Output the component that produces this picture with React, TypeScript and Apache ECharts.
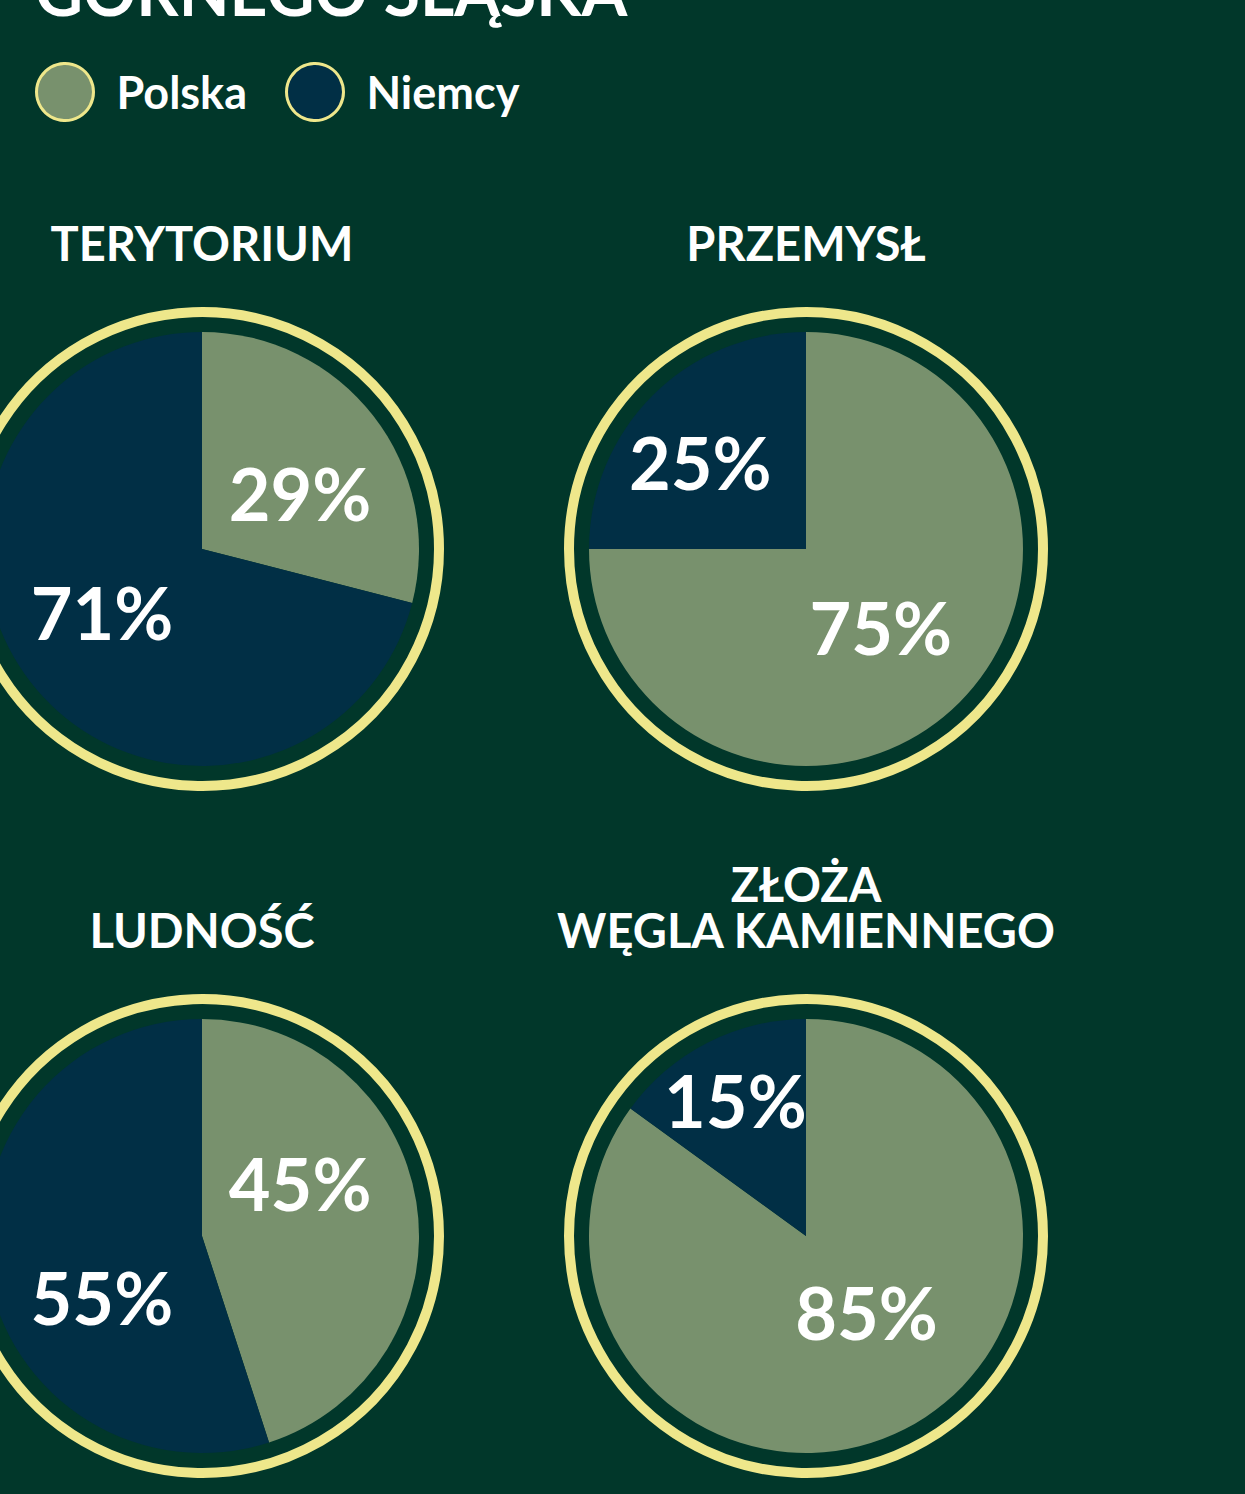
import React, { useEffect, useRef } from "react";
import * as echarts from "echarts";

// ---- data ----
const CATEGORIES = ["Polska", "Niemcy"];
const PANEL_TITLES = ["TERYTORIUM", "PRZEMYSŁ", "LUDNOŚĆ", "ZŁOŻA\nWĘGLA KAMIENNEGO"];
const POLSKA = [29, 75, 45, 85];
const NIEMCY = [71, 25, 55, 15];
const HEADLINE = "GÓRNEGO ŚLĄSKA";

// ---- style / layout ----
const W = 1245;
const H = 1494;
const BG = "#01372A";
const C_POL = "#78916D";
const C_NIE = "#012F45";
const YELLOW = "#EEE78B";
const FONT = "Lato, 'Open Sans', sans-serif";
const CENTERS: [number, number][] = [
  [202, 549],
  [806, 549],
  [202, 1236],
  [806, 1236],
];
const RADIUS = 217;
const RING_R = 237;
const TITLE_Y = [243, 243, 930, 907];
// label nudges [Polska, Niemcy] per panel
const LABEL_OFFSETS: [number, number][][] = [
  [[10, 12], [-12, -5]],
  [[-4, -1], [-27, -8]],
  [[-12, -36], [10, 44]],
  [[10, -23], [-20, -37]],
];

export default function App() {
  const ref = useRef<HTMLDivElement>(null);
  useEffect(() => {
    if (!ref.current) return;
    const chart = echarts.init(ref.current, null, { renderer: "svg" });
    const colors = [C_POL, C_NIE];

    const series = PANEL_TITLES.map((t, i) => ({
      type: "pie",
      name: t,
      center: CENTERS[i],
      radius: [0, RADIUS],
      startAngle: 90,
      clockwise: true,
      silent: true,
      avoidLabelOverlap: false,
      emphasis: { disabled: true },
      itemStyle: { borderWidth: 0 },
      labelLine: { show: false },
      label: {
        show: true,
        position: "inside",
        formatter: "{c}%",
        color: "#FFFFFF",
        fontSize: 72,
        fontWeight: "bold",
        fontFamily: FONT,
      },
      data: [POLSKA[i], NIEMCY[i]].map((v, k) => ({
        name: CATEGORIES[k],
        value: v,
        itemStyle: { color: colors[k] },
        label: { offset: LABEL_OFFSETS[i][k] },
      })),
    }));

    const graphic: any[] = [
      {
        type: "text",
        x: 35,
        y: -10,
        style: {
          text: HEADLINE,
          fill: "#FFFFFF",
          font: `bold 66px ${FONT}`,
          textVerticalAlign: "middle",
          textAlign: "left",
        },
      },
    ];
    CENTERS.forEach((c, i) => {
      graphic.push({
        type: "circle",
        shape: { cx: c[0], cy: c[1], r: RING_R },
        style: { fill: "none", stroke: YELLOW, lineWidth: 10 },
        silent: true,
      });
      graphic.push({
        type: "text",
        x: c[0],
        y: TITLE_Y[i],
        style: {
          text: PANEL_TITLES[i],
          fill: "#FFFFFF",
          font: `bold 47px ${FONT}`,
          lineHeight: 46,
          textAlign: "center",
          textVerticalAlign: "middle",
        },
      });
    });

    chart.setOption({
      animation: false,
      backgroundColor: BG,
      color: colors,
      legend: {
        data: CATEGORIES,
        left: 35,
        top: 62,
        padding: 0,
        orient: "horizontal",
        icon: "circle",
        itemWidth: 57,
        itemHeight: 57,
        itemGap: 38,
        selectedMode: false,
        itemStyle: { borderColor: YELLOW, borderWidth: 3 },
        textStyle: {
          color: "#FFFFFF",
          fontSize: 45,
          fontWeight: "bold",
          fontFamily: FONT,
          padding: [0, 0, 0, 18],
        },
      },
      series,
      graphic,
    });
    return () => chart.dispose();
  }, []);
  return (
    <div
      ref={ref}
      style={{ position: "fixed", left: 0, top: 0, width: W, height: H }}
    />
  );
}
